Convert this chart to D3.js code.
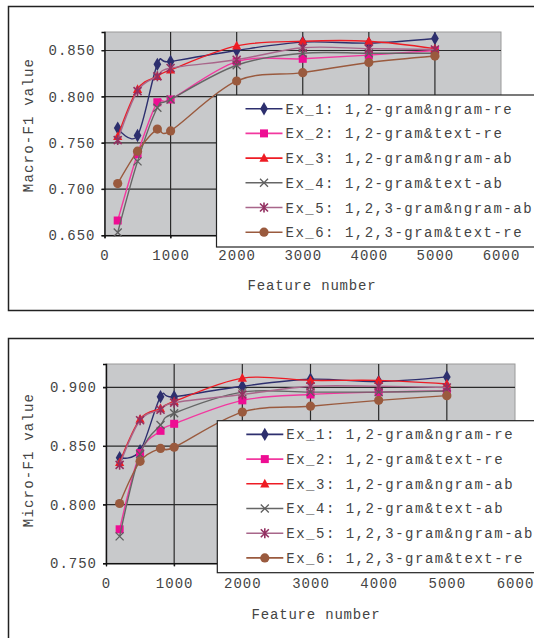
<!DOCTYPE html>
<html>
<head>
<meta charset="utf-8">
<script src="https://cdn.jsdelivr.net/npm/d3@7/dist/d3.min.js"></script>
<style>
  html, body { margin: 0; padding: 0; background: #fff; }
  svg { display: block; }
  text { font-family: "Liberation Mono", "Courier New", monospace; fill: #444; }
</style>
</head>
<body>
<div id="chart"></div>
<script>
// x values shared by both panels
var featureNumbers = [200, 500, 800, 1000, 2000, 3000, 4000, 5000];
var seriesNames = [
  "Ex_1: 1,2-gram&ngram-re",
  "Ex_2: 1,2-gram&text-re",
  "Ex_3: 1,2-gram&ngram-ab",
  "Ex_4: 1,2-gram&text-ab",
  "Ex_5: 1,2,3-gram&ngram-ab",
  "Ex_6: 1,2,3-gram&text-re"
];

// Macro-F1 (upper panel)
var macroEx1 = [0.766, 0.758, 0.835, 0.838, 0.850, 0.859, 0.858, 0.863];
var macroEx2 = [0.666, 0.738, 0.794, 0.797, 0.838, 0.841, 0.845, 0.850];
var macroEx3 = [0.757, 0.808, 0.822, 0.829, 0.855, 0.860, 0.860, 0.852];
var macroEx4 = [0.653, 0.730, 0.788, 0.797, 0.834, 0.847, 0.847, 0.847];
var macroEx5 = [0.753, 0.806, 0.822, 0.831, 0.840, 0.853, 0.852, 0.851];
var macroEx6 = [0.706, 0.741, 0.765, 0.763, 0.817, 0.826, 0.837, 0.844];

// Micro-F1 (lower panel)
var microEx1 = [0.840, 0.846, 0.892, 0.892, 0.901, 0.907, 0.905, 0.909];
var microEx2 = [0.779, 0.844, 0.863, 0.869, 0.889, 0.894, 0.896, 0.897];
var microEx3 = [0.836, 0.873, 0.882, 0.888, 0.908, 0.906, 0.906, 0.903];
var microEx4 = [0.773, 0.843, 0.868, 0.878, 0.896, 0.896, 0.896, 0.897];
var microEx5 = [0.834, 0.872, 0.881, 0.887, 0.894, 0.901, 0.901, 0.900];
var microEx6 = [0.801, 0.837, 0.848, 0.849, 0.879, 0.884, 0.889, 0.893];

var xTicks = [0, 1000, 2000, 3000, 4000, 5000, 6000];
var macroTicks = [0.65, 0.70, 0.75, 0.80, 0.85];
var microTicks = [0.75, 0.80, 0.85, 0.90];

var W = 534, H = 638;
var styles = [
  {color: "#2d2f6e", line: "#2d2f6e", marker: "diamond"},
  {color: "#ee0d93", line: "#f2389f", marker: "square"},
  {color: "#ee1c24", line: "#ee1c24", marker: "triangle"},
  {color: "#5e5e5e", line: "#666666", marker: "cross"},
  {color: "#933061", line: "#a8668a", marker: "star"},
  {color: "#9a5a3e", line: "#9a5a3e", marker: "circle"}
];

var svg = d3.select("#chart").append("svg").attr("width", W).attr("height", H);

function drawMarker(g, type, color) {
  if (type == "diamond") {
    g.append("path").attr("d", d3.symbol(d3.symbolDiamond, 52)()).attr("fill", color);
  } else if (type == "square") {
    g.append("rect").attr("x", -4).attr("y", -4).attr("width", 8).attr("height", 8).attr("fill", color);
  } else if (type == "triangle") {
    g.append("path").attr("d", "M0,-5L4.6,3.6L-4.6,3.6Z").attr("fill", color);
  } else if (type == "cross") {
    g.append("path").attr("d", "M-4,-4L4,4M-4,4L4,-4").attr("stroke", color).attr("stroke-width", 1.3);
  } else if (type == "star") {
    g.append("path").attr("d", "M-4,-4L4,4M-4,4L4,-4M0,-5L0,5").attr("stroke", color).attr("stroke-width", 1.6);
  } else {
    g.append("circle").attr("r", 4.6).attr("fill", color);
  }
}

function drawPanel(cfg) {
  var root = svg.append("g");

  // outer frame (runs off the right edge like the source)
  root.append("rect")
    .attr("x", cfg.frame[0]).attr("y", cfg.frame[1])
    .attr("width", 600).attr("height", cfg.frame[2])
    .attr("fill", "none").attr("stroke", "#222").attr("stroke-width", 1.5);

  var x = d3.scaleLinear().domain([0, 6000]).range([cfg.left, cfg.right]);
  var y = d3.scaleLinear().domain(cfg.yDomain).range([cfg.bottom, cfg.top]);

  root.append("rect")
    .attr("x", cfg.left).attr("y", cfg.top)
    .attr("width", cfg.right - cfg.left).attr("height", cfg.bottom - cfg.top)
    .attr("fill", "#c8c9cb").attr("stroke", "#9a9a9a").attr("stroke-width", 1);

  // grid
  root.selectAll(".hgrid").data(cfg.yTicks.slice(1)).enter().append("line")
    .attr("x1", cfg.left - 3).attr("x2", cfg.right)
    .attr("y1", function (d) { return y(d); }).attr("y2", function (d) { return y(d); })
    .attr("stroke", "#2a2a2a").attr("stroke-width", 1.2);
  root.selectAll(".vgrid").data(xTicks.slice(1, -1)).enter().append("line")
    .attr("x1", function (d) { return x(d); }).attr("x2", function (d) { return x(d); })
    .attr("y1", cfg.top).attr("y2", cfg.bottom + 3)
    .attr("stroke", "#2a2a2a").attr("stroke-width", 1.2);

  // axes
  var yAxis = d3.axisLeft(y).tickValues(cfg.yTicks).tickFormat(d3.format(".3f")).tickSize(3).tickPadding(6);
  var xAxis = d3.axisBottom(x).tickValues(xTicks).tickFormat(d3.format("d")).tickSize(3).tickPadding(12);
  var ga = root.append("g").attr("transform", "translate(" + cfg.left + ",0)").call(yAxis);
  var gb = root.append("g").attr("transform", "translate(0," + cfg.bottom + ")").call(xAxis);
  [ga, gb].forEach(function (a) {
    a.select(".domain").attr("stroke", "#111").attr("stroke-width", 1.4);
    a.selectAll(".tick line").attr("stroke", "#111");
    a.selectAll("text").attr("font-family", "Liberation Mono").attr("font-size", 14)
      .attr("letter-spacing", "1px").attr("fill", "#444");
  });

  root.append("text")
    .attr("x", cfg.xTitle[0]).attr("y", cfg.xTitle[1])
    .attr("text-anchor", "middle").attr("font-size", 14).attr("letter-spacing", "0.8px")
    .text("Feature number");
  root.append("text")
    .attr("transform", "translate(" + cfg.yTitle[0] + "," + cfg.yTitle[1] + ") rotate(-90)")
    .attr("text-anchor", "middle").attr("font-size", 14).attr("letter-spacing", "1.2px")
    .text(cfg.title);

  var line = d3.line()
    .x(function (d, i) { return x(featureNumbers[i]); })
    .y(function (d) { return y(d); })
    .curve(d3.curveCardinal);

  cfg.series.forEach(function (vals, k) {
    var st = styles[k];
    root.append("path").attr("d", line(vals))
      .attr("fill", "none").attr("stroke", st.line).attr("stroke-width", 1.4);
    vals.forEach(function (v, i) {
      var g = root.append("g").attr("transform", "translate(" + x(featureNumbers[i]) + "," + y(v) + ")");
      drawMarker(g, st.marker, st.color);
    });
  });

  // legend
  var lg = root.append("g").attr("transform", "translate(" + cfg.legend[0] + "," + cfg.legend[1] + ")");
  lg.append("rect").attr("x", 0).attr("y", 0).attr("width", 400).attr("height", cfg.legend[2])
    .attr("fill", "#fff").attr("stroke", "#222").attr("stroke-width", 1.2);
  seriesNames.forEach(function (name, k) {
    var st = styles[k];
    var ry = 13.7 + k * 24.7;
    lg.append("line").attr("x1", 29).attr("x2", 66).attr("y1", ry).attr("y2", ry)
      .attr("stroke", st.line).attr("stroke-width", 1.6);
    drawMarker(lg.append("g").attr("transform", "translate(47.5," + ry + ")"), st.marker, st.color);
    lg.append("text").attr("x", 69).attr("y", ry + 5).attr("font-size", 14)
      .attr("letter-spacing", "1.5px").text(name);
  });
}

drawPanel({
  frame: [8.5, 6.5, 304],
  left: 104.5, right: 501, top: 32, bottom: 235.3,
  yDomain: [0.65, 0.87], yTicks: macroTicks,
  xTitle: [312, 290], yTitle: [33, 125], title: "Macro-F1 value",
  series: [macroEx1, macroEx2, macroEx3, macroEx4, macroEx5, macroEx6],
  legend: [216.5, 95, 152]
});

drawPanel({
  frame: [8.5, 338.5, 310],
  left: 106, right: 515, top: 364, bottom: 563.3,
  yDomain: [0.75, 0.92], yTicks: microTicks,
  xTitle: [316, 619], yTitle: [33, 460], title: "Micro-F1 value",
  series: [microEx1, microEx2, microEx3, microEx4, microEx5, microEx6],
  legend: [217.3, 420.7, 152]
});
</script>
</body>
</html>
